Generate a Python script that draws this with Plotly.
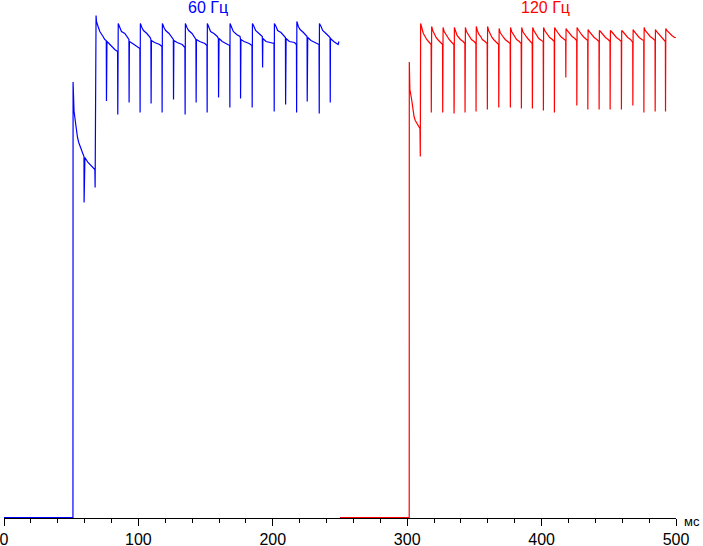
import plotly.graph_objects as go

# Time (ms) and relative brightness (%), 60 Hz
blue_points = [
    (0, 0), (51.3, 0), (51.4, 87.1), (51.6, 84.0), (52.1, 81.3), (53.2, 79.0), (53.9, 77.2),
    (54.7, 76.0), (55.6, 75.0), (56.6, 74.2), (57.6, 73.4), (58.8, 72.8), (59.5, 72.2),
    (59.6, 63.0), (59.9, 65.8), (60.2, 72.0), (62.5, 71.0), (65.1, 70.2), (67.6, 69.6),
    (67.8, 66.0), (68.0, 73.6), (68.5, 100.4), (68.8, 99.2), (70.0, 98.2), (71.3, 97.2),
    (73.7, 96.2), (75.0, 95.6), (76.1, 95.4), (76.25, 83.3), (76.4, 85.6), (76.6, 95.2),
    (77.4, 95.0), (80.0, 94.2), (82.4, 93.6), (84.5, 93.2), (84.66, 80.6), (84.8, 88.0), (85.0, 98.8),
    (86.2, 98.0), (87.4, 97.2), (89.9, 96.8), (92.4, 96.0), (92.95, 95.6), (93.08, 83.0), (93.3, 95.2),
    (95.7, 94.8), (99.5, 94.2), (101.1, 93.8), (101.27, 81.0), (101.45, 98.8),
    (102.6, 98.0), (103.8, 97.4), (106.3, 96.8), (108.8, 96.0), (109.3, 95.6), (109.46, 82.8), (109.7, 95.4),
    (112.0, 95.0), (115.8, 94.6), (117.5, 94.2), (117.65, 81.0), (117.85, 98.8),
    (119.0, 98.0), (120.3, 97.4), (122.8, 96.8), (125.3, 96.0), (126.0, 95.6), (126.13, 83.6), (126.4, 95.4),
    (128.8, 95.0), (132.6, 94.6), (134.6, 94.0), (134.77, 80.6), (134.95, 98.8),
    (136.1, 98.0), (137.4, 97.4), (139.9, 96.8), (142.3, 96.0), (142.8, 95.6), (142.96, 83.0), (143.2, 95.6),
    (145.6, 95.2), (149.4, 94.8), (151.0, 94.4), (151.15, 81.0), (151.3, 98.8),
    (152.5, 98.0), (153.7, 97.2), (156.2, 96.8), (158.7, 96.2), (159.5, 95.8), (159.64, 84.0), (159.8, 87.2),
    (160.0, 95.8), (162.4, 95.2), (166.2, 94.6), (167.9, 94.4), (168.06, 82.0), (168.2, 98.8),
    (169.4, 98.0), (170.6, 97.2), (173.1, 96.6), (175.6, 96.2), (175.9, 95.8), (176.02, 83.8), (176.3, 95.6),
    (178.6, 95.2), (182.4, 94.8), (184.5, 94.4), (184.66, 82.0), (184.85, 98.8),
    (186.0, 98.2), (187.2, 97.4), (189.7, 96.8), (192.2, 96.2), (192.41, 90.0), (192.6, 95.8),
    (195.0, 95.2), (198.8, 95.0), (200.9, 94.8), (201.04, 81.2), (201.2, 98.8),
    (202.4, 98.2), (203.6, 97.4), (206.1, 97.0), (208.6, 96.2), (209.4, 96.0), (209.53, 82.6), (209.7, 89.6),
    (209.9, 95.8), (212.3, 95.2), (216.1, 95.0), (217.6, 94.6), (217.72, 81.0), (217.9, 99.2),
    (219.0, 98.2), (220.3, 97.6), (222.8, 97.0), (225.3, 96.4), (225.5, 96.2), (225.61, 83.2), (225.8, 89.0),
    (226.0, 96.0), (228.4, 95.4), (232.2, 94.8), (234.4, 94.6), (234.55, 80.8), (234.7, 98.8),
    (235.9, 98.2), (237.1, 97.4), (239.6, 96.8), (242.1, 96.2), (242.6, 96.0), (242.74, 83.0), (242.9, 95.8),
    (245.3, 95.2), (247.6, 94.8), (248.6, 94.6), (249.2, 95.2),
]

# 120 Hz
red_points = [
    (250, 0), (301.5, 0), (301.56, 91.1), (301.7, 90.0), (302.0, 85.6), (303.3, 83.6), (304.1, 82.0),
    (305.1, 80.2), (306.0, 79.4), (307.1, 78.8), (308.3, 78.2), (309.5, 77.8), (309.75, 72.2), (310.0, 98.8),
    (310.8, 98.0), (312.0, 96.8), (313.3, 96.2), (314.5, 95.6), (316.5, 95.0), (317.8, 94.6), (317.94, 81.0), (318.05, 91.0), (318.2, 98.2),
    (319.0, 97.4), (320.2, 96.6), (321.5, 96.0), (322.7, 95.6), (324.7, 95.0), (326.3, 94.6), (326.43, 81.0), (326.55, 83.6), (326.7, 98.0),
    (327.5, 97.2), (328.7, 96.6), (330.0, 96.0), (331.2, 95.6), (333.2, 95.0), (334.7, 94.6), (334.85, 80.8), (334.95, 82.6), (335.1, 98.0),
    (335.9, 97.2), (337.1, 96.4), (338.4, 96.0), (339.6, 95.6), (341.6, 95.2), (342.9, 94.8), (343.04, 81.0), (343.15, 87.6), (343.3, 98.0),
    (344.1, 97.2), (345.3, 96.6), (346.6, 96.0), (347.8, 95.6), (349.8, 95.2), (351.1, 94.8), (351.23, 81.2), (351.4, 98.2),
    (352.2, 97.4), (353.4, 96.6), (354.7, 96.2), (355.9, 95.6), (357.9, 95.2), (359.5, 94.8), (359.64, 81.6), (359.8, 98.2),
    (360.6, 97.4), (361.8, 96.6), (363.1, 96.0), (364.3, 95.6), (366.3, 95.0), (368.0, 94.6), (368.13, 82.0), (368.25, 93.2), (368.4, 97.8),
    (369.2, 97.0), (370.4, 96.4), (371.7, 96.0), (372.9, 95.6), (374.9, 95.2), (376.6, 94.8), (376.77, 82.0), (376.9, 98.0),
    (377.7, 97.2), (378.9, 96.6), (380.2, 96.0), (381.4, 95.6), (383.4, 95.2), (384.8, 94.8), (384.96, 81.8), (385.1, 85.4), (385.2, 98.0),
    (386.0, 97.2), (387.2, 96.6), (388.5, 96.2), (389.7, 95.8), (391.7, 95.2), (393.0, 94.8), (393.15, 81.8), (393.25, 92.0), (393.4, 98.0),
    (394.2, 97.4), (395.4, 96.8), (396.7, 96.2), (397.9, 95.8), (399.9, 95.4), (401.2, 95.2), (401.34, 81.4), (401.5, 98.0),
    (402.3, 97.4), (403.5, 97.0), (404.8, 96.6), (406.0, 96.0), (408.0, 95.6), (409.4, 95.2), (409.53, 81.0), (409.7, 98.0),
    (410.5, 97.6), (411.7, 97.0), (413.0, 96.6), (414.2, 96.2), (416.2, 95.8), (417.9, 95.4), (418.02, 88.0), (418.2, 97.8),
    (419.0, 97.4), (420.2, 97.0), (421.5, 96.6), (422.7, 96.2), (424.7, 95.8), (426.1, 95.4), (426.21, 82.4), (426.4, 98.0),
    (427.2, 97.6), (428.4, 97.0), (429.7, 96.6), (430.9, 96.2), (432.9, 95.8), (434.3, 95.4), (434.4, 81.6), (434.5, 83.8), (434.6, 97.6),
    (435.4, 97.2), (436.6, 96.8), (437.9, 96.4), (439.1, 96.0), (441.1, 95.6), (442.7, 95.2), (442.8, 81.6), (442.9, 88.0), (443.0, 97.4),
    (443.8, 97.2), (445.0, 96.8), (446.3, 96.4), (447.5, 96.0), (449.5, 95.6), (450.9, 95.2), (451.0, 81.6), (451.2, 97.4),
    (452.0, 97.2), (453.2, 96.8), (454.5, 96.4), (455.7, 96.0), (457.7, 95.6), (459.3, 95.2), (459.4, 81.6), (459.6, 97.4),
    (460.4, 97.2), (461.6, 96.8), (462.9, 96.4), (464.1, 96.0), (466.1, 95.6), (467.8, 95.0), (467.9, 82.4), (468.0, 90.2), (468.1, 97.6),
    (468.9, 97.2), (470.1, 96.8), (471.4, 96.4), (472.6, 96.0), (474.6, 95.6), (476.0, 95.4), (476.1, 81.0), (476.3, 98.0),
    (477.1, 97.4), (478.3, 97.0), (479.6, 96.6), (480.8, 96.2), (482.8, 95.8), (484.4, 95.4), (484.5, 81.2), (484.6, 87.6), (484.7, 97.6),
    (485.5, 97.2), (486.7, 96.8), (488.0, 96.4), (489.2, 96.0), (491.2, 95.4), (492.1, 95.2), (492.2, 81.2), (492.3, 92.8), (492.4, 97.8),
    (493.2, 97.4), (494.4, 97.0), (495.7, 96.6), (496.9, 96.4), (498.9, 96.0), (499.9, 96.0),
]

tick_values = [0, 100, 200, 300, 400, 500]
tick_labels = ["0", "100", "200", "300", "400", "500"]
series_labels = [("60 Гц", 152, "#0000ff"), ("120 Гц", 403, "#ff0000")]
unit_label = "мс"

FONT = "Arial, 'Liberation Sans', sans-serif"

blue_t = [p[0] for p in blue_points]
blue_v = [p[1] for p in blue_points]
red_t = [p[0] for p in red_points]
red_v = [p[1] for p in red_points]

fig = go.Figure()
fig.add_trace(go.Scatter(x=blue_t, y=blue_v, mode="lines",
                         line=dict(color="#0000ff", width=1.2), hoverinfo="skip"))
fig.add_trace(go.Scatter(x=red_t, y=red_v, mode="lines",
                         line=dict(color="#ff0000", width=1.2), hoverinfo="skip"))

annotations = []
for text, xpos, color in series_labels:
    annotations.append(dict(text=text, x=xpos, xref="x", y=0.985, yref="paper",
                            showarrow=False, xanchor="center", yanchor="middle",
                            font=dict(family=FONT, size=16, color=color)))
annotations.append(dict(text=unit_label, x=1.024, xref="paper", y=-0.006, yref="paper",
                        showarrow=False, xanchor="center", yanchor="middle",
                        font=dict(family=FONT, size=13, color="#000000")))

fig.update_layout(
    width=703, height=546,
    margin=dict(l=4, r=27, t=0, b=28, autoexpand=False),
    paper_bgcolor="white", plot_bgcolor="white",
    showlegend=False,
    annotations=annotations,
    xaxis=dict(range=[0, 500], tickmode="array", tickvals=tick_values, ticktext=tick_labels,
               ticks="outside", ticklen=7, tickwidth=1, tickcolor="black",
               showline=True, linecolor="black", linewidth=1,
               showgrid=False, zeroline=False, automargin=False,
               ticklabeloverflow="allow",
               tickfont=dict(family=FONT, size=16, color="black"),
               minor=dict(dtick=20, tick0=0, ticks="outside", ticklen=4, tickwidth=1,
                          tickcolor="black", showgrid=False)),
    yaxis=dict(range=[-0.1, 103.5], visible=False, fixedrange=True, automargin=False),
)

fig.write_html("out.html", config={"displayModeBar": False},
               post_script="document.body.style.margin='0';document.body.style.overflow='hidden';")
